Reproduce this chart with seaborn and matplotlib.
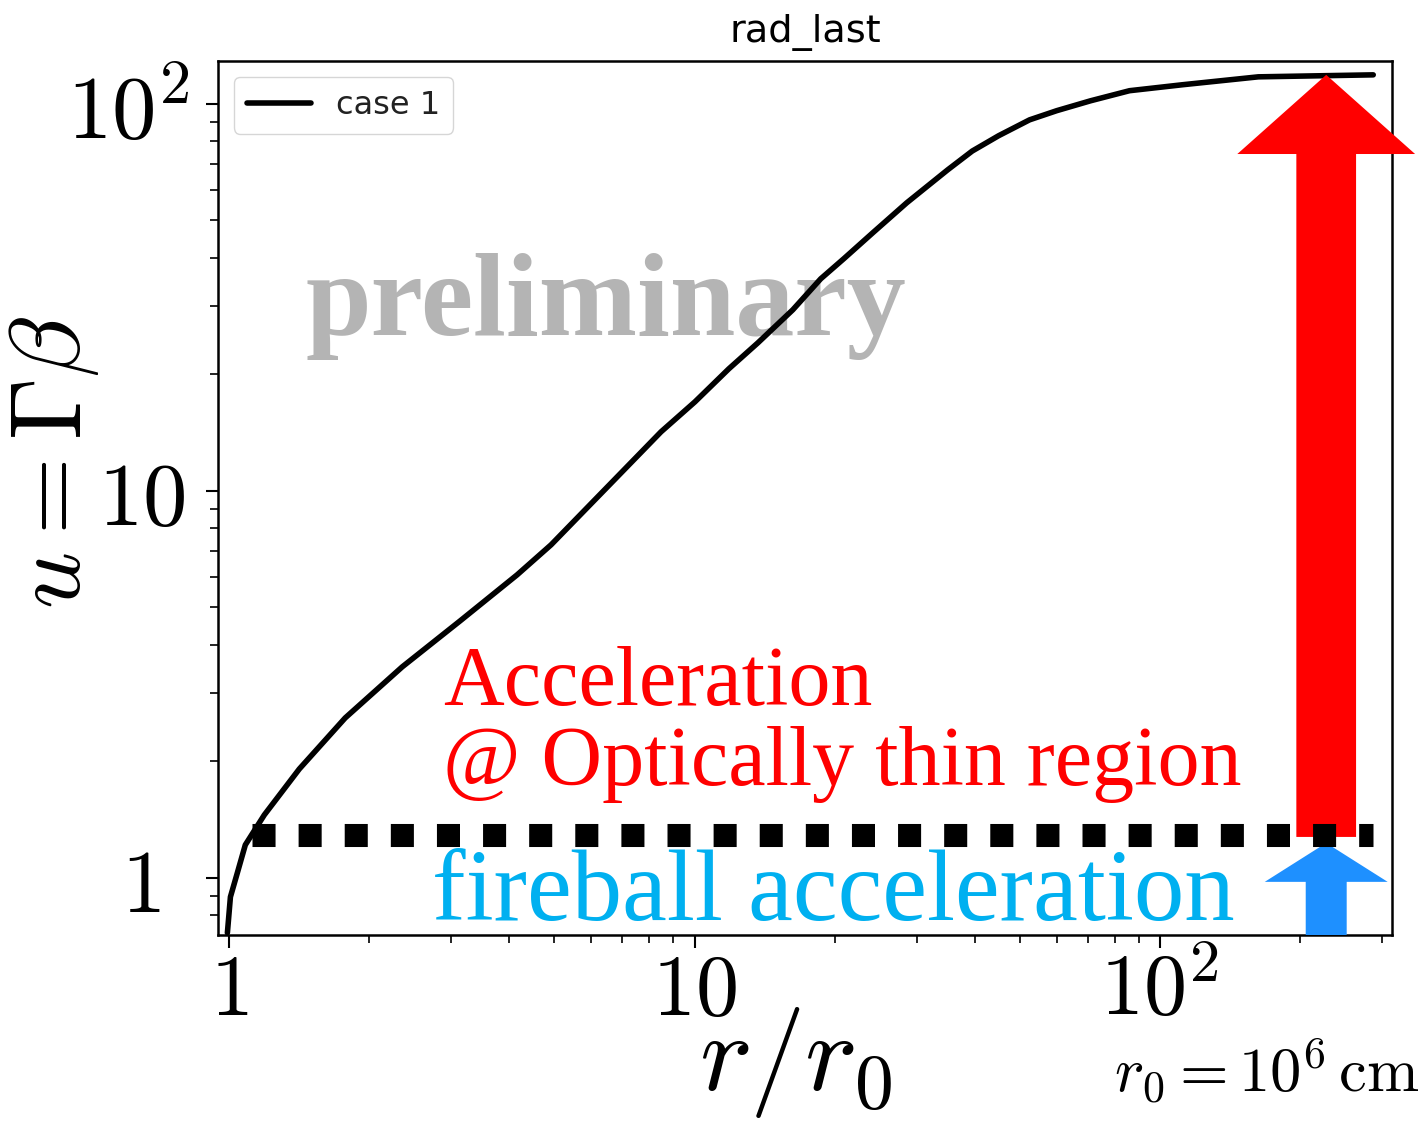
import numpy as np
import pandas as pd
import matplotlib
matplotlib.use("Agg")
import matplotlib.pyplot as plt
import seaborn as sns
from matplotlib.patches import FancyArrowPatch
from matplotlib.ticker import NullFormatter
from matplotlib.transforms import ScaledTranslation

# ---- data ----
r_values = [0.992, 1.007, 1.042, 1.084, 1.191, 1.416, 1.777, 2.356, 3.137, 4.157,
            4.918, 5.848, 7.126, 8.474, 10.02, 11.85, 13.68, 16.26, 18.67, 20.92,
            24.15, 28.57, 34.99, 39.5, 45.00, 52.45, 60.0, 70.90, 85.97, 111.7, 162.6, 287.1]
u_values = [0.721, 0.893, 1.030, 1.217, 1.455, 1.912, 2.591, 3.510, 4.614, 6.066,
            7.253, 8.985, 11.47, 14.21, 16.98, 20.67, 24.12, 29.36, 35.31, 39.78,
            46.42, 55.49, 67.53, 75.5, 82.7, 90.9, 96.0, 101.8, 108.1, 112.0, 117.4, 118.8]
series_label = "case 1"

fireball_r = [1.123, 287.0]
fireball_u = [1.29, 1.29]

red_arrow_r = 227.5
red_arrow_u = [1.276, 118.8]
blue_arrow_r = 227.5
blue_arrow_u = [0.712, 1.231]

x_ticks = [1, 10, 100]
x_tick_labels = [r"$1$", r"$10$", r"$10^2$"]
y_ticks = [1, 10, 100]
y_tick_labels = [r"$1$", r"$10$", r"$10^2$"]
x_limits = (0.947, 315)
y_limits = (0.712, 129)

title_text = "rad_last"
watermark = "preliminary"
red_line1 = "Acceleration"
red_line2 = "@ Optically thin region"
blue_text = "fireball acceleration"
r0_text = r"$r_0 = 10^6\,\mathrm{cm}$"

# ---- style ----
sns.set_theme(style="ticks")
plt.rcParams["mathtext.fontset"] = "cm"
plt.rcParams["font.family"] = ["DejaVu Sans"]

W, H = 1427, 1123
fig = plt.figure(figsize=(W / 100, H / 100), dpi=100)
ax = fig.add_axes([218 / W, 1 - 935 / H, (1392 - 218) / W, (935 - 61) / H])
ax.set_xscale("log")
ax.set_yscale("log")

df = pd.DataFrame({"r": r_values, "u": u_values})
sns.lineplot(data=df, x="r", y="u", ax=ax, color="black", lw=4,
             label=series_label, estimator=None, sort=False, zorder=3)

ax.plot(fireball_r, fireball_u, color="black", lw=16.6, linestyle=(0, (1, 1)),
        dash_capstyle="butt", zorder=6, label="_nolegend_")

ax.set_xlim(*x_limits)
ax.set_ylim(*y_limits)
ax.set_xticks(x_ticks, x_tick_labels)
ax.set_yticks(y_ticks, y_tick_labels)
ax.xaxis.set_minor_formatter(NullFormatter())
ax.yaxis.set_minor_formatter(NullFormatter())
ax.tick_params(which="major", length=9, width=1.5, direction="out", color="black",
               labelcolor="black")
ax.tick_params(axis="x", which="major", pad=2, labelsize=62)
ax.tick_params(axis="y", which="major", pad=11, labelsize=64)
ax.tick_params(which="minor", length=5.5, width=1.2, direction="out", color="black")
for s in ax.spines.values():
    s.set_linewidth(1.8)
    s.set_color("black")

# nudge the "1" and "10" y labels left as in the reference
y_shifts = {1: -30, 10: -5}
for tick in ax.yaxis.get_major_ticks():
    pos = tick.get_loc()
    for key, dx in y_shifts.items():
        if abs(pos - key) < 1e-9:
            tick.label1.set_transform(tick.label1.get_transform()
                                      + ScaledTranslation(dx / 100, 0, fig.dpi_scale_trans))

ax.set_title(title_text, fontsize=27.5, pad=14, color="black")
ax.set_xlabel(r"$r/r_0$", fontsize=80, color="black")
ax.xaxis.set_label_coords(0.492, -0.080)
ax.set_ylabel(r"$u=\Gamma\beta$", fontsize=72, color="black")
ax.yaxis.set_label_coords(-0.10, 0.541)

leg = ax.legend(loc="upper left", fontsize=23, frameon=True, fancybox=True,
                framealpha=0.8, edgecolor="0.8", borderaxespad=0.5)
for t in leg.get_texts():
    t.set_color("#222222")

# watermark
ax.text(0.3305, 0.6865, watermark, transform=ax.transAxes, ha="center", va="baseline",
        fontsize=85, fontweight="bold", family="Liberation Serif", color="#b4b4b4", zorder=1)

# annotations
ax.text(0.1917, 0.263, red_line1, transform=ax.transAxes, ha="left", va="baseline",
        fontsize=60.5, family="Liberation Serif", color="#ff0000", zorder=4)
ax.text(0.1917, 0.1716, red_line2, transform=ax.transAxes, ha="left", va="baseline",
        fontsize=60.5, family="Liberation Serif", color="#ff0000", zorder=4)
ax.text(0.1823, 0.0172, blue_text, transform=ax.transAxes, ha="left", va="baseline",
        fontsize=72.5, family="Liberation Serif", color="#00b0f0", zorder=4)

red = FancyArrowPatch((red_arrow_r, red_arrow_u[0]), (red_arrow_r, red_arrow_u[1]),
                      arrowstyle="simple,head_length=57,head_width=128,tail_width=43",
                      mutation_scale=1, color="#ff0000", lw=0, shrinkA=0, shrinkB=0,
                      clip_on=False, zorder=4)
ax.add_patch(red)
blue = FancyArrowPatch((blue_arrow_r, blue_arrow_u[0]), (blue_arrow_r, blue_arrow_u[1]),
                       arrowstyle="simple,head_length=28,head_width=88.5,tail_width=29.5",
                       mutation_scale=1, color="#1e90ff", lw=0, shrinkA=0, shrinkB=0,
                       clip_on=False, zorder=4)
ax.add_patch(blue)

fig.text(1420 / W, 1 - 1092 / H, r0_text, ha="right", va="baseline", fontsize=45, color="black")

fig.savefig("out.png", dpi=100)
